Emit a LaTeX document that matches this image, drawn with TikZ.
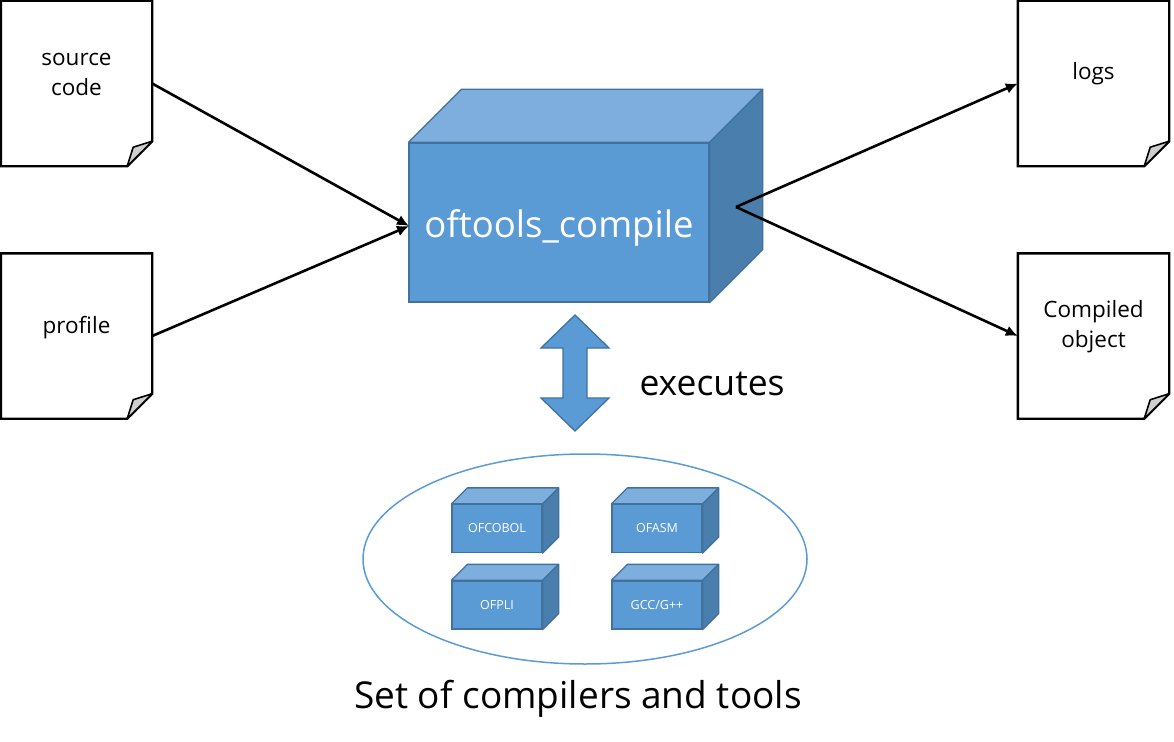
\documentclass[tikz,border=0pt]{standalone}
\usepackage{fontspec}
\setmainfont{Open Sans}
\usetikzlibrary{arrows.meta,calc,shapes.geometric}
\definecolor{cfront}{HTML}{5B9BD5}
\definecolor{ctop}{HTML}{7DAEDD}
\definecolor{cside}{HTML}{4A7EAD}
\definecolor{cedge}{HTML}{41719C}
\definecolor{cfold}{HTML}{CFCFCF}
\tikzset{
  doc/.style={minimum width=151pt,minimum height=165pt,inner sep=0pt,align=center,font=\fontsize{22.5}{30}\selectfont},
  docline/.style={draw=black,line width=2.4pt,line join=miter},
  cubefront/.style={fill=cfront,draw=cedge,line width=1.3pt,inner sep=0pt,text=white,align=center},
  conn/.style={draw=black,line width=2.6pt,-{Latex[length=12pt,width=11pt]}},
}
\newcommand\docframe[1]{%
  \draw[docline,fill=white] (#1.north west) -- (#1.north east) -- ([yshift=25pt]#1.south east) -- ([xshift=-25pt]#1.south east) -- (#1.south west) -- cycle;
  \draw[draw=black,line width=1.6pt,fill=cfold,line join=round] ([xshift=-25pt]#1.south east) -- ([xshift=-19pt,yshift=19pt]#1.south east) -- ([yshift=25pt]#1.south east) -- cycle;}
\newcommand\cubefaces[2]{% node, depth
  \draw[fill=ctop,draw=cedge,line width=1.3pt,line join=round] (#1.north west) -- ([xshift=#2,yshift=#2]#1.north west) -- ([xshift=#2,yshift=#2]#1.north east) -- (#1.north east) -- cycle;
  \draw[fill=cside,draw=cedge,line width=1.3pt,line join=round] (#1.north east) -- ([xshift=#2,yshift=#2]#1.north east) -- ([xshift=#2,yshift=#2]#1.south east) -- (#1.south east) -- cycle;}
\begin{document}
\begin{tikzpicture}[x=1pt,y=-1pt]
\useasboundingbox (0,0) rectangle (1174,741);
% documents
\node[doc] (src) at (76.5,83.5) {};
\docframe{src}
\node[doc] at ([yshift=9pt]src.center) {source\\code};
\node[doc] (prof) at (76.5,336) {};
\docframe{prof}
\node[doc] at ([yshift=8pt]prof.center) {profile};
\node[doc] (logs) at (1093.5,83.5) {};
\docframe{logs}
\node[doc] at ([yshift=10pt]logs.center) {logs};
\node[doc] (obj) at (1093.5,336) {};
\docframe{obj}
\node[doc] at ([yshift=9pt]obj.center) {Compiled\\object};
% main cube
\node[cubefront,minimum width=300pt,minimum height=159pt] (main) at (559,222.5) {};
\node[text=white,font=\fontsize{36.5}{40}\selectfont] (maintext) at ([yshift=-5pt]main.center) {oftools\_compile};
\cubefaces{main}{53pt}
\coordinate (out) at (736,207);
\coordinate (in) at (409,226);
% connectors
\draw[conn] (src.east) -- (in);
\draw[conn] (prof.east) -- (in);
\draw[conn] (out) -- (logs.west);
\draw[conn] (out) -- (obj.west);
% double arrow
\draw[fill=cfront,draw=cedge,line width=1.3pt,line join=miter] (575,315) -- (609,348) -- (587,348) -- (587,398) -- (609,398) -- (575,431) -- (541,398) -- (563,398) -- (563,348) -- (541,348) -- cycle;
\node[font=\fontsize{35.5}{40}\selectfont,anchor=west] (exec) at (636,384) {executes};
% ellipse
\node[draw=cfront,line width=1.5pt,ellipse,minimum width=444pt,minimum height=210pt,inner sep=0pt] (set) at (585,559) {};
% small cubes
\tikzset{small/.style={cubefront,minimum width=90pt,minimum height=48pt,font=\fontsize{12.5}{14}\selectfont}}
\node[small] (cobol) at (497,528.5) {OFCOBOL};
\cubefaces{cobol}{16pt}
\node[small] (asm) at (657,528.5) {OFASM};
\cubefaces{asm}{16pt}
\node[small] (pli) at (497,605) {OFPLI};
\cubefaces{pli}{16pt}
\node[small] (gcc) at (657,605) {GCC/G++};
\cubefaces{gcc}{16pt}
\node[font=\fontsize{37}{42}\selectfont] (lbl) at (578,699) {Set of compilers and tools};
\end{tikzpicture}
\end{document}
